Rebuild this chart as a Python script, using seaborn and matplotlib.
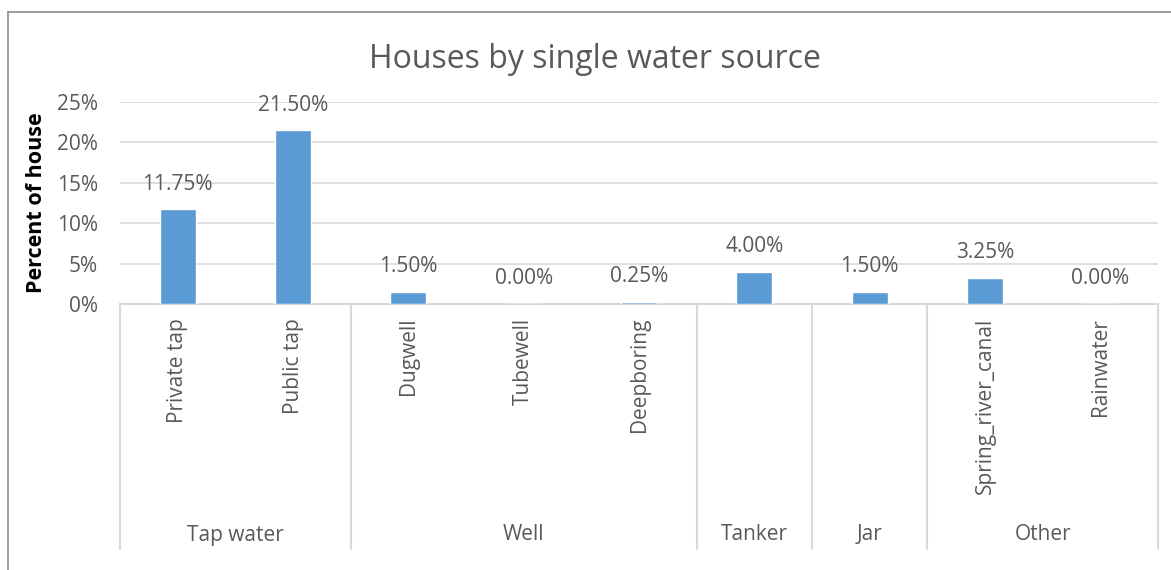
import matplotlib
matplotlib.use("Agg")
import matplotlib.pyplot as plt
import matplotlib.transforms as mtransforms
import seaborn as sns
import pandas as pd

sources = ["Private tap", "Public tap", "Dugwell", "Tubewell", "Deepboring",
           "Tanker", "Jar", "Spring_river_canal", "Rainwater"]
shares = [11.75, 21.50, 1.50, 0.00, 0.25, 4.00, 1.50, 3.25, 0.00]
groups = ["Tap water", "Well", "Tanker", "Jar", "Other"]
group_sizes = [2, 3, 1, 1, 2]

sns.set_theme(style="white")
plt.rcParams["font.family"] = ["Open Sans", "DejaVu Sans"]

TEXT = "#595959"
GRID = "#D9D9D9"
BAR = "#5B9BD5"

df = pd.DataFrame({"source": sources, "share": shares})

fig = plt.figure(figsize=(11.71, 5.70), dpi=100)
ax = fig.add_axes([120 / 1171, (570 - 304) / 570, (1158 - 120) / 1171, (304 - 102) / 570])

sns.barplot(data=df, x="source", y="share", color=BAR, width=0.31, ax=ax,
            saturation=1, zorder=3)

ax.set_ylim(0, 25)
ax.set_xlim(-0.5, len(sources) - 0.5)
ax.set_yticks([0, 5, 10, 15, 20, 25])
ax.set_yticklabels([f"{v}%" for v in [0, 5, 10, 15, 20, 25]])
ax.yaxis.grid(True, color=GRID, linewidth=1.2, zorder=0)
ax.set_axisbelow(True)
for s in ["top", "right", "left"]:
    ax.spines[s].set_visible(False)
ax.spines["bottom"].set_color(GRID)
ax.spines["bottom"].set_linewidth(1.5)

ax.tick_params(axis="y", length=0, pad=16, labelsize=15, labelcolor=TEXT)
ax.tick_params(axis="x", length=0, pad=10, labelsize=15, labelcolor=TEXT)

# single-item groups carry only their group name
tick_labels = []
i = 0
for n in group_sizes:
    for k in range(n):
        tick_labels.append(sources[i] if n > 1 else "")
        i += 1
ax.set_xticks(range(len(sources)))
ax.set_xticklabels(tick_labels, rotation=90, va="top")
ax.set_xlabel("")
ax.set_ylabel("Percent of house", fontsize=15.5, fontweight="bold", color="black",
              labelpad=7)

# value labels above each bar
for i, v in enumerate(shares):
    ax.annotate(f"{v:.2f}%", (i, v), xytext=(0, 18), textcoords="offset points",
                ha="center", va="center", fontsize=15, color=TEXT)

# group separators and group names below the category labels
trans = mtransforms.blended_transform_factory(ax.transData, ax.transAxes)
y_low = (304 - 549) / (304 - 102)
y_grp = (304 - 535) / (304 - 102)
edge = -0.5
bounds = [edge]
for g, n in zip(groups, group_sizes):
    ax.text(edge + n / 2, y_grp, g, transform=trans, ha="center", va="center",
            fontsize=15, color=TEXT, clip_on=False)
    edge += n
    bounds.append(edge)
for b in bounds:
    ax.plot([b, b], [0, y_low], transform=trans, color=GRID, linewidth=1.5,
            clip_on=False)

fig.text((367 + 822) / 2 / 1171, (570 - 59) / 570, "Houses by single water source",
         ha="center", va="center", fontsize=23, color=TEXT)

# chart frame
frame = "#8C8C8C"
fig.add_artist(plt.Line2D([8 / 1171, 1], [1 - 12 / 570, 1 - 12 / 570],
                          transform=fig.transFigure, color=frame, linewidth=1.2))
fig.add_artist(plt.Line2D([8 / 1171, 8 / 1171], [0, 1 - 12 / 570],
                          transform=fig.transFigure, color=frame, linewidth=1.2))

fig.savefig("out.png", dpi=100, facecolor="white")
